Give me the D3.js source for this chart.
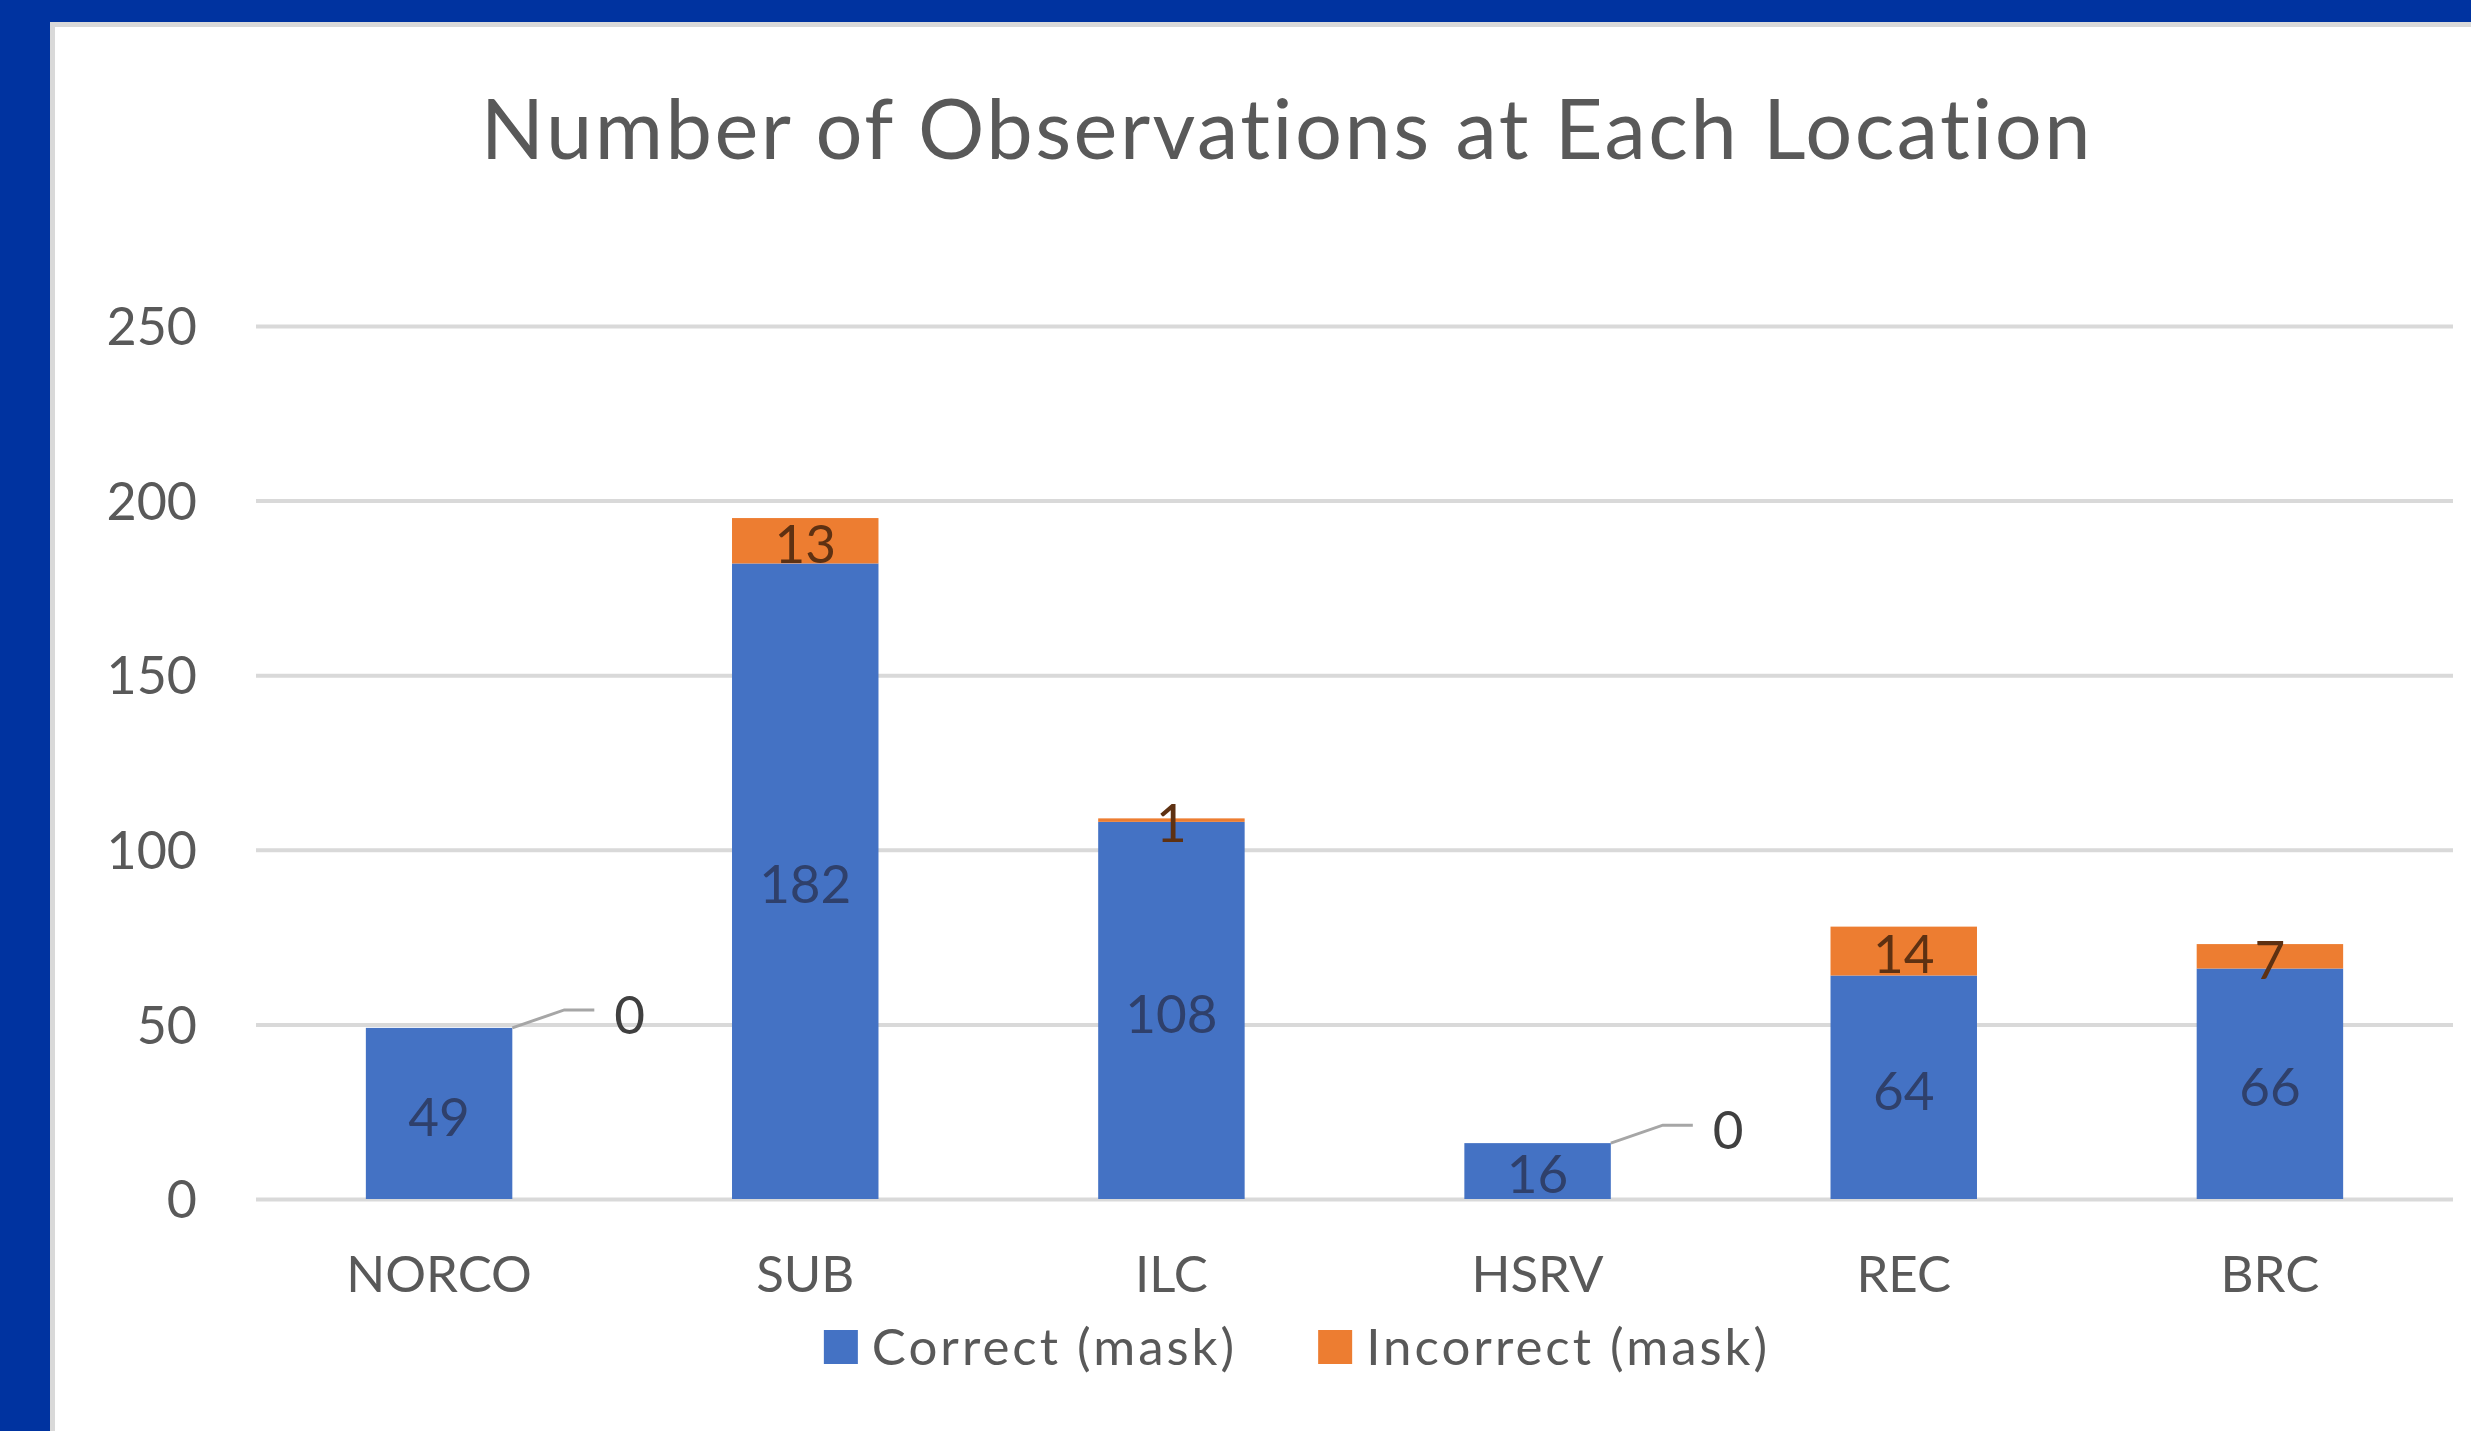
<!DOCTYPE html>
<html>
<head>
<meta charset="utf-8">
<script src="https://cdn.jsdelivr.net/npm/d3@7/dist/d3.min.js"></script>
<style>
  body { margin: 0; background: #0033a0; overflow: hidden; }
  svg { display: block; }
  text { font-family: Lato, "Open Sans", sans-serif; font-variant-ligatures: none; }
</style>
</head>
<body>
<div class="chart"></div>
<script>
// data
const categories = ['NORCO', 'SUB', 'ILC', 'HSRV', 'REC', 'BRC']
const correct = [49, 182, 108, 16, 64, 66]
const incorrect = [0, 13, 1, 0, 14, 7]
const seriesNames = ['Correct (mask)', 'Incorrect (mask)']
const yTicks = [0, 50, 100, 150, 200, 250]
const titleText = 'Number of Observations at Each Location'

const colors = ['#4472c4', '#ed7d31']
const labelColors = ['#2f406b', '#5e3112']

const W = 2471, H = 1431
const margin = {top: 326, right: 18, bottom: 232, left: 256}
const width = W - margin.left - margin.right
const height = H - margin.top - margin.bottom

const root = d3.select('.chart')
  .append('svg')
    .attr('width', W)
    .attr('height', H)

// white card with a soft edge
root.append('rect')
  .attr('x', 50).attr('y', 22)
  .attr('width', W - 50).attr('height', H - 22)
  .attr('fill', '#d9d9d9')
root.append('rect')
  .attr('x', 55).attr('y', 27)
  .attr('width', W - 55).attr('height', H - 27)
  .attr('fill', '#ffffff')

root.append('text')
  .attr('x', 1287).attr('y', 159)
  .attr('text-anchor', 'middle')
  .style('font-size', '83px')
  .style('letter-spacing', '2.5px')
  .style('fill', '#595959')
  .text(titleText)

const svg = root.append('g')
  .attr('transform', `translate(${margin.left}, ${margin.top})`)

const rows = categories.map((c, i) => ({cat: c, correct: correct[i], incorrect: incorrect[i]}))
const keys = ['correct', 'incorrect']
const stacked = d3.stack().keys(keys)(rows)

const yScale = d3.scaleLinear()
  .domain([0, d3.max(yTicks)])
  .range([height, 0])

const xScale = d3.scaleBand()
  .domain(categories)
  .range([0, width])
  .paddingInner(0.6)
  .paddingOuter(0.3)

// y axis = gridlines + labels
const yAxis = d3.axisLeft(yScale)
  .tickValues(yTicks)
  .tickSize(-width)
  .tickPadding(59)
const gy = svg.append('g').call(yAxis)
gy.select('.domain').remove()
gy.selectAll('line').attr('stroke', '#d9d9d9').attr('stroke-width', 4)
gy.selectAll('text')
  .attr('dy', '0.36em')
  .style('font-size', '52px')
  .style('fill', '#595959')
  .style('font-family', 'Lato, sans-serif')

// category axis
const xAxis = d3.axisBottom(xScale).tickSize(0).tickPadding(57)
const gx = svg.append('g')
  .attr('transform', `translate(0, ${height})`)
  .call(xAxis)
gx.select('.domain').remove()
gx.selectAll('text')
  .style('font-size', '51px')
  .style('fill', '#595959')
  .style('font-family', 'Lato, sans-serif')

// bars
const layers = svg.selectAll('.layer')
  .data(stacked)
  .enter()
  .append('g')
    .attr('class', 'layer')
    .attr('fill', (d, i) => colors[i])

layers.selectAll('rect')
  .data(d => d)
  .enter()
  .append('rect')
    .attr('x', d => xScale(d.data.cat))
    .attr('y', d => yScale(d[1]))
    .attr('width', xScale.bandwidth())
    .attr('height', d => yScale(d[0]) - yScale(d[1]))

// data labels
stacked.forEach((layer, li) => {
  layer.forEach(d => {
    const v = d[1] - d[0]
    const x0 = xScale(d.data.cat)
    if (v > 0) {
      svg.append('text')
        .attr('x', x0 + xScale.bandwidth() / 2)
        .attr('y', (yScale(d[0]) + yScale(d[1])) / 2)
        .attr('dy', '0.42em')
        .attr('text-anchor', 'middle')
        .style('font-size', '53px')
        .style('fill', labelColors[li])
        .text(v)
    } else {
      // zero value: label pulled out with a leader line
      const bx = x0 + xScale.bandwidth()
      const by = yScale(d[1])
      svg.append('path')
        .attr('d', `M${bx},${by}L${bx + 52},${by - 18}L${bx + 82},${by - 18}`)
        .attr('fill', 'none')
        .attr('stroke', '#a6a6a6')
        .attr('stroke-width', 3)
      svg.append('text')
        .attr('x', bx + 102)
        .attr('y', by - 18)
        .attr('dy', '0.45em')
        .style('font-size', '53px')
        .style('fill', '#404040')
        .text(v)
    }
  })
})

// legend, centred under the chart
const legend = root.append('g')
let lx = 0
seriesNames.forEach((name, i) => {
  const item = legend.append('g').attr('transform', `translate(${lx}, 0)`)
  item.append('rect')
    .attr('x', 0).attr('y', 1330)
    .attr('width', 34).attr('height', 34)
    .attr('fill', colors[i])
  const t = item.append('text')
    .attr('x', 48).attr('y', 1365)
    .style('font-size', '51px')
    .style('letter-spacing', '3px')
    .style('fill', '#595959')
    .text(name)
  lx += 48 + t.node().getComputedTextLength() + 81
})
const legendW = lx - 81
legend.attr('transform', `translate(${1297 - legendW / 2}, 0)`)
</script>
</body>
</html>
